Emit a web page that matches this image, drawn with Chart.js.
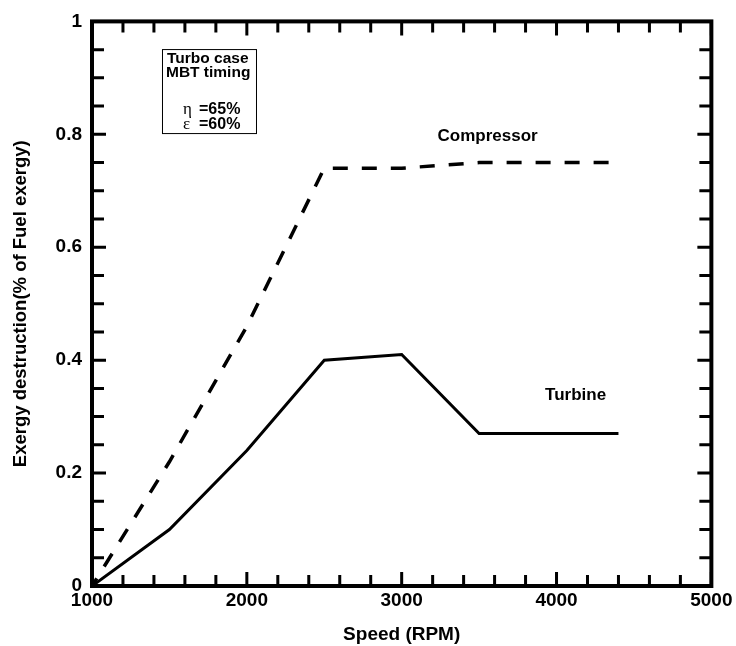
<!DOCTYPE html>
<html>
<head>
<meta charset="utf-8">
<script src="https://cdn.jsdelivr.net/npm/chart.js@4/dist/chart.umd.min.js"></script>
<style>
  html, body { margin: 0; padding: 0; background: #fff; }
  canvas { display: block; }
</style>
</head>
<body>
<canvas id="chart" width="736" height="646"></canvas>
<script>
// engine speed (RPM) and exergy destruction values
const speeds = [1000, 1500, 2000, 2500, 3000, 3500, 4400];
const compressor = [0, 0.22, 0.46, 0.74, 0.74, 0.75, 0.75];
const turbine = [0, 0.10, 0.24, 0.40, 0.41, 0.27, 0.27];

const xTicks = [1000, 2000, 3000, 4000, 5000];
const yTicks = [0, 0.2, 0.4, 0.6, 0.8, 1];

const boxLines = ["Turbo case", "MBT timing"];
const boxParams = [["\u03b7", "=65%"], ["\u03b5", "=60%"]];

const FONT = "'Liberation Sans', Arial, Helvetica, sans-serif";

function toPoints(xs, ys) {
    return xs.map((x, i) => ({ x: x, y: ys[i] }));
}

// inward tick marks on all four sides plus the heavy frame
const frameTicks = {
    id: "frameTicks",
    afterDraw(chart) {
        const ctx = chart.ctx;
        const { left, right, top, bottom } = chart.chartArea;
        const xs = chart.scales.x;
        const ys = chart.scales.y;

        ctx.save();
        ctx.strokeStyle = "#000";
        ctx.lineWidth = 3;
        ctx.lineCap = "butt";

        for (let v = 1000; v <= 5000; v += 200) {
            const px = xs.getPixelForValue(v);
            const len = v % 1000 === 0 ? 14 : 11;
            ctx.beginPath();
            ctx.moveTo(px, bottom);
            ctx.lineTo(px, bottom - len);
            ctx.moveTo(px, top);
            ctx.lineTo(px, top + len);
            ctx.stroke();
        }
        for (let i = 0; i <= 20; i++) {
            const v = i * 0.05;
            const py = ys.getPixelForValue(v);
            const len = i % 4 === 0 ? 14 : 12;
            ctx.beginPath();
            ctx.moveTo(left, py);
            ctx.lineTo(left + len, py);
            ctx.moveTo(right, py);
            ctx.lineTo(right - len, py);
            ctx.stroke();
        }

        ctx.lineWidth = 4;
        ctx.strokeRect(left, top, right - left, bottom - top);
        ctx.restore();
    },
};

// curve names and the parameter box
const notes = {
    id: "notes",
    afterDraw(chart) {
        const ctx = chart.ctx;
        const xs = chart.scales.x;
        const ys = chart.scales.y;

        ctx.save();
        ctx.fillStyle = "#000";
        ctx.textAlign = "center";
        ctx.textBaseline = "middle";
        ctx.font = "bold 17px " + FONT;
        ctx.fillText("Compressor", xs.getPixelForValue(3555), ys.getPixelForValue(0.796));
        ctx.fillText("Turbine", xs.getPixelForValue(4123), ys.getPixelForValue(0.338));

        const bx = xs.getPixelForValue(1452);
        const by = ys.getPixelForValue(0.951);
        ctx.lineWidth = 1;
        ctx.strokeStyle = "#000";
        ctx.strokeRect(bx + 0.5, by + 0.5, 94, 84);

        ctx.textAlign = "left";
        ctx.textBaseline = "alphabetic";
        ctx.font = "bold 15.5px " + FONT;
        ctx.fillText(boxLines[0], bx + 5, by + 14);
        ctx.fillText(boxLines[1], bx + 4, by + 27.5);

        boxParams.forEach((p, i) => {
            const base = by + 65 + i * 15;
            ctx.font = "17px 'Liberation Serif', 'DejaVu Serif', serif";
            ctx.fillText(p[0], bx + 21, base);
            ctx.font = "bold 16px " + FONT;
            ctx.fillText(p[1], bx + 37, base);
        });
        ctx.restore();
    },
};

new Chart(document.querySelector("#chart"), {
    type: "line",
    data: {
        datasets: [
            {
                label: "Compressor",
                data: toPoints(speeds, compressor),
                borderColor: "#000",
                borderWidth: 3.5,
                borderDash: [15, 14],
                borderDashOffset: 6,
                pointRadius: 0,
                tension: 0,
            },
            {
                label: "Turbine",
                data: toPoints(speeds, turbine),
                borderColor: "#000",
                borderWidth: 3,
                pointRadius: 0,
                tension: 0,
            },
        ],
    },
    options: {
        responsive: false,
        animation: false,
        devicePixelRatio: 1,
        layout: { padding: { top: 18, right: 24, left: 0, bottom: 0 } },
        plugins: {
            legend: { display: false },
            tooltip: { enabled: false },
        },
        scales: {
            x: {
                type: "linear",
                min: 1000,
                max: 5000,
                afterBuildTicks: (scale) => {
                    scale.ticks = xTicks.map((v) => ({ value: v }));
                },
                ticks: {
                    color: "#000",
                    padding: 3.5,
                    maxRotation: 0,
                    font: { family: FONT, size: 19, weight: "bold" },
                    callback: (v) => String(v),
                },
                grid: { display: false, drawTicks: false },
                border: { display: false },
                title: {
                    display: true,
                    text: "Speed (RPM)",
                    color: "#000",
                    padding: { top: -5.5, bottom: 0 },
                    font: { family: FONT, size: 19, weight: "bold" },
                },
                afterFit: (scale) => {
                    scale.height = 60;
                },
            },
            y: {
                type: "linear",
                min: 0,
                max: 1,
                afterBuildTicks: (scale) => {
                    scale.ticks = yTicks.map((v) => ({ value: v }));
                },
                ticks: {
                    color: "#000",
                    padding: 10,
                    font: { family: FONT, size: 19, weight: "bold" },
                    callback: (v) => String(v),
                },
                grid: { display: false, drawTicks: false },
                border: { display: false },
                title: {
                    display: true,
                    text: "Exergy destruction(% of Fuel exergy)",
                    color: "#000",
                    padding: { top: 10, bottom: 0 },
                    font: { family: FONT, size: 18.5, weight: "bold" },
                },
                afterFit: (scale) => {
                    scale.width = 92;
                },
            },
        },
    },
    plugins: [frameTicks, notes],
});
</script>
</body>
</html>
